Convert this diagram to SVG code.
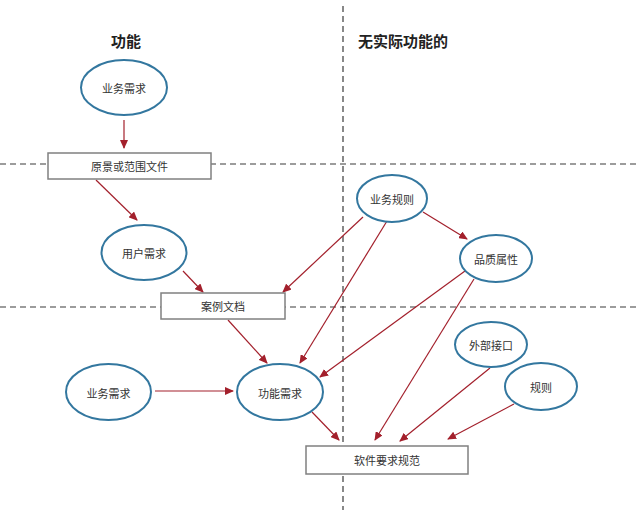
<svg xmlns="http://www.w3.org/2000/svg" width="640" height="510" viewBox="0 0 640 510">
<defs>
<marker id="ah" markerWidth="9" markerHeight="8" refX="8" refY="4" orient="auto" markerUnits="userSpaceOnUse">
<path d="M0,0 L9,4 L0,8 Z" fill="#a3202c"/>
</marker>
<style>
.dash{stroke:#3a3a3a;stroke-width:1.2;stroke-dasharray:6,4;fill:none}
.ell{fill:#fff;stroke:#33779f;stroke-width:2}
.box{fill:#fff;stroke:#808080;stroke-width:1.5}
.lbl{font-family:"Noto Sans CJK SC","Liberation Sans",sans-serif;font-size:11px;fill:#333;text-anchor:middle;dominant-baseline:central}
.ttl{font-family:"Noto Sans CJK SC","Liberation Sans",sans-serif;font-size:15px;font-weight:bold;fill:#222}
.con{stroke:#a3202c;stroke-width:1.2;fill:none;marker-end:url(#ah)}
</style>
</defs>
<rect width="640" height="510" fill="#fff"/>
<g id="grid">
<line class="dash" x1="343" y1="6" x2="343" y2="510"/>
<line class="dash" x1="0" y1="164" x2="640" y2="164"/>
<line class="dash" x1="0" y1="307" x2="640" y2="307"/>
</g>
<text class="ttl" x="126" y="47" text-anchor="middle">功能</text>
<text class="ttl" x="358" y="47">无实际功能的</text>
<g id="connectors">
<line class="con" x1="124" y1="120" x2="124" y2="148"/>
<line class="con" x1="96" y1="180" x2="137" y2="220"/>
<line class="con" x1="183" y1="271" x2="203" y2="292"/>
<line class="con" x1="363" y1="217" x2="283" y2="292"/>
<line class="con" x1="423" y1="212" x2="467" y2="239"/>
<line class="con" x1="228" y1="320" x2="267" y2="363"/>
<line class="con" x1="387" y1="221" x2="300" y2="363"/>
<line class="con" x1="465" y1="271" x2="320" y2="377"/>
<line class="con" x1="155" y1="391" x2="233" y2="391"/>
<line class="con" x1="312" y1="412" x2="339" y2="440"/>
<line class="con" x1="474" y1="279" x2="375" y2="440"/>
<line class="con" x1="490" y1="368" x2="400" y2="441"/>
<line class="con" x1="514" y1="404" x2="448" y2="439"/>
</g>
<g id="n_bizreq_top"><ellipse class="ell" cx="124" cy="87.5" rx="43" ry="27.5"/><text class="lbl" x="124" y="88">业务需求</text></g>
<g id="n_vision"><rect class="box" x="48" y="153" width="163" height="26"/><text class="lbl" x="129.5" y="166">原景或范围文件</text></g>
<g id="n_userreq"><ellipse class="ell" cx="144" cy="252.5" rx="42.5" ry="27.5"/><text class="lbl" x="144" y="253">用户需求</text></g>
<g id="n_usecase"><rect class="box" x="161" y="293" width="124" height="26"/><text class="lbl" x="223" y="306">案例文档</text></g>
<g id="n_bizrule"><ellipse class="ell" cx="392" cy="198.5" rx="35" ry="23.5"/><text class="lbl" x="392" y="199">业务规则</text></g>
<g id="n_quality"><ellipse class="ell" cx="496" cy="258.5" rx="36" ry="23.5"/><text class="lbl" x="496" y="259">品质属性</text></g>
<g id="n_bizreq_bottom"><ellipse class="ell" cx="108.5" cy="392" rx="42.5" ry="28"/><text class="lbl" x="108.5" y="393">业务需求</text></g>
<g id="n_funcreq"><ellipse class="ell" cx="280" cy="392" rx="43" ry="28"/><text class="lbl" x="280" y="393">功能需求</text></g>
<g id="n_extif"><ellipse class="ell" cx="491" cy="344.5" rx="36" ry="22.5"/><text class="lbl" x="491" y="345">外部接口</text></g>
<g id="n_rule"><ellipse class="ell" cx="541" cy="386.5" rx="36" ry="23.5"/><text class="lbl" x="541" y="387">规则</text></g>
<g id="n_srs"><rect class="box" x="306" y="446" width="162" height="28"/><text class="lbl" x="387" y="460">软件要求规范</text></g>
</svg>
